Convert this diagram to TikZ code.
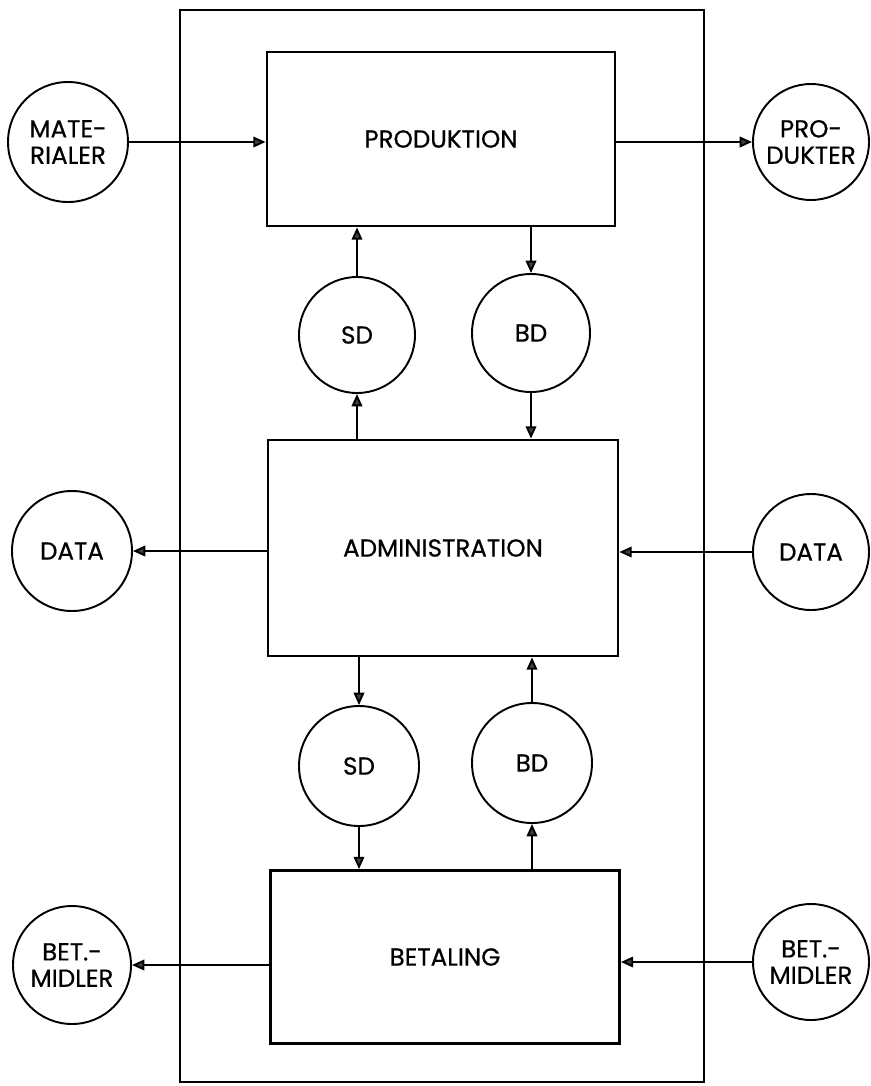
\documentclass[tikz,border=0pt]{standalone}
\usepackage{fontspec}
\setmainfont{Poppins}[FakeBold=0.6,BoldFont=Poppins,BoldFeatures={FakeBold=0.6}]
\usetikzlibrary{arrows.meta}
\begin{document}
\begin{tikzpicture}[x=0.02cm,y=-0.02cm,
  blk/.style={draw,line width=1.6pt,minimum width=#1,inner sep=0pt,font=\fontsize{14}{16}\selectfont},
  ent/.style={draw,circle,line width=1.1pt,minimum size=#1,inner sep=0pt,align=center,font=\fontsize{14}{15}\selectfont},
  flow/.style={line width=1.1pt,-{Triangle[length=7pt,width=6pt,fill=black!75]}}]
\useasboundingbox (0,0) rectangle (870,1086);
% outer boundary
\draw[line width=1.6pt] (180,10) rectangle (704,1082);
% blocks
\node[blk=348*0.02cm,minimum height=174*0.02cm] (prod) at (441,139) {PRODUKTION};
\node[blk=350*0.02cm,minimum height=216*0.02cm] (adm) at (443,548) {ADMINISTRATION};
\node[blk=349*0.02cm,minimum height=173*0.02cm] (bet) at (445,957) {BETALING};
% circles
\node[ent=120*0.02cm] (mat) at (68,142) {MATE-\\RIALER};
\node[ent=116*0.02cm] (pdk) at (811,142) {PRO-\\DUKTER};
\node[ent=116*0.02cm] (sda) at (357,335) {SD};
\node[ent=118*0.02cm] (bda) at (531,333) {BD};
\node[ent=120*0.02cm] (datl) at (72,551) {DATA};
\node[ent=116*0.02cm] (datr) at (811,552) {DATA};
\node[ent=120*0.02cm] (sdb) at (359,766) {SD};
\node[ent=120*0.02cm] (bdb) at (532,763) {BD};
\node[ent=118*0.02cm] (bml) at (72,965) {BET.-\\MIDLER};
\node[ent=116*0.02cm] (bmr) at (811,962) {BET.-\\MIDLER};
% connectors
\draw[flow] (mat.east) -- (mat.east -| prod.west);
\draw[flow] (pdk.west -| prod.east) -- (pdk.west);
\draw[flow] (sda.north) -- (sda.north |- prod.south);
\draw[flow] (bda.north |- prod.south) -- (bda.north);
\draw[flow] (sda.south |- adm.north) -- (sda.south);
\draw[flow] (bda.south) -- (bda.south |- adm.north);
\draw[flow] (datl.east -| adm.west) -- (datl.east);
\draw[flow] (datr.west) -- (datr.west -| adm.east);
\draw[flow] (sdb.north |- adm.south) -- (sdb.north);
\draw[flow] (bdb.north) -- (bdb.north |- adm.south);
\draw[flow] (sdb.south) -- (sdb.south |- bet.north);
\draw[flow] (bdb.south |- bet.north) -- (bdb.south);
\draw[flow] (bml.east -| bet.west) -- (bml.east);
\draw[flow] (bmr.west) -- (bmr.west -| bet.east);
\end{tikzpicture}
\end{document}
